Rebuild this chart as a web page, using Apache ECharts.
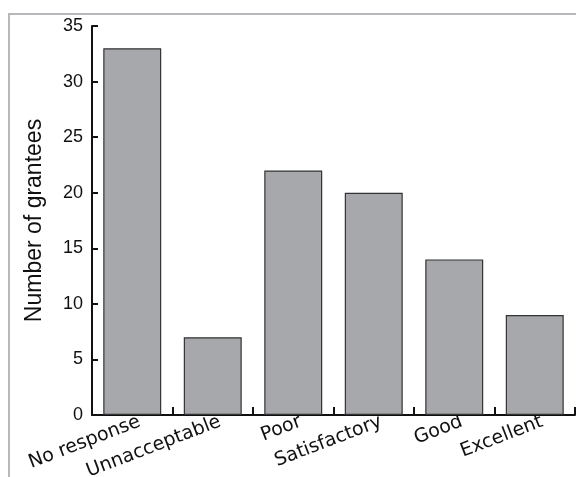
<!DOCTYPE html>
<html><head><meta charset="utf-8">
<script src="https://cdn.jsdelivr.net/npm/echarts@6/dist/echarts.min.js"></script>
<style>html,body{margin:0;padding:0;background:#fff}#c{width:576px;height:477px}</style>
</head><body><div id="c"></div>
<script>
var categories = ['No response','Unnacceptable','Poor','Satisfactory','Good','Excellent'];
var values = [33, 7, 22, 20, 14, 9];
var yTicks = [0, 5, 10, 15, 20, 25, 30, 35];
var chart = echarts.init(document.getElementById('c'), null, {renderer:'canvas'});
chart.setOption({
  animation: false,
  backgroundColor: '#fff',
  graphic: [{type:'rect', shape:{x:9, y:14, width:600, height:500}, style:{fill:'none', stroke:'#b8b8bc', lineWidth:2}}],
  grid: {left: 92, top: 26, right: 1, bottom: 62, outerBoundsMode: 'none', containLabel: false},
  xAxis: {
    type: 'category', data: categories, boundaryGap: true,
    axisLine: {lineStyle: {color: '#111', width: 2}},
    axisTick: {show: true, inside: true, length: 8, alignWithLabel: false, lineStyle: {color: '#111', width: 2}},
    axisLabel: {rotate: 21, fontFamily: 'DejaVu Sans', fontSize: 19, color: '#111', margin: 9, interval: 0, padding: [0, -8, 0, 0]}
  },
  yAxis: {
    type: 'value', min: yTicks[0], max: yTicks[yTicks.length-1], interval: 5,
    name: 'Number of grantees', nameLocation: 'middle', nameGap: 46, nameRotate: 90,
    nameTextStyle: {fontFamily: 'Liberation Sans', fontSize: 23, color: '#111'},
    splitLine: {show: false},
    axisLine: {show: true, lineStyle: {color: '#111', width: 2}},
    axisTick: {show: true, inside: true, length: 6, lineStyle: {color: '#111', width: 2}},
    axisLabel: {fontFamily: 'Liberation Sans', fontSize: 18, color: '#111', margin: 9}
  },
  series: [{
    type: 'bar', data: values, barWidth: '72%',
    itemStyle: {color: '#a7a8ab', borderColor: '#333', borderWidth: 1.2}
  }]
});
</script></body></html>
